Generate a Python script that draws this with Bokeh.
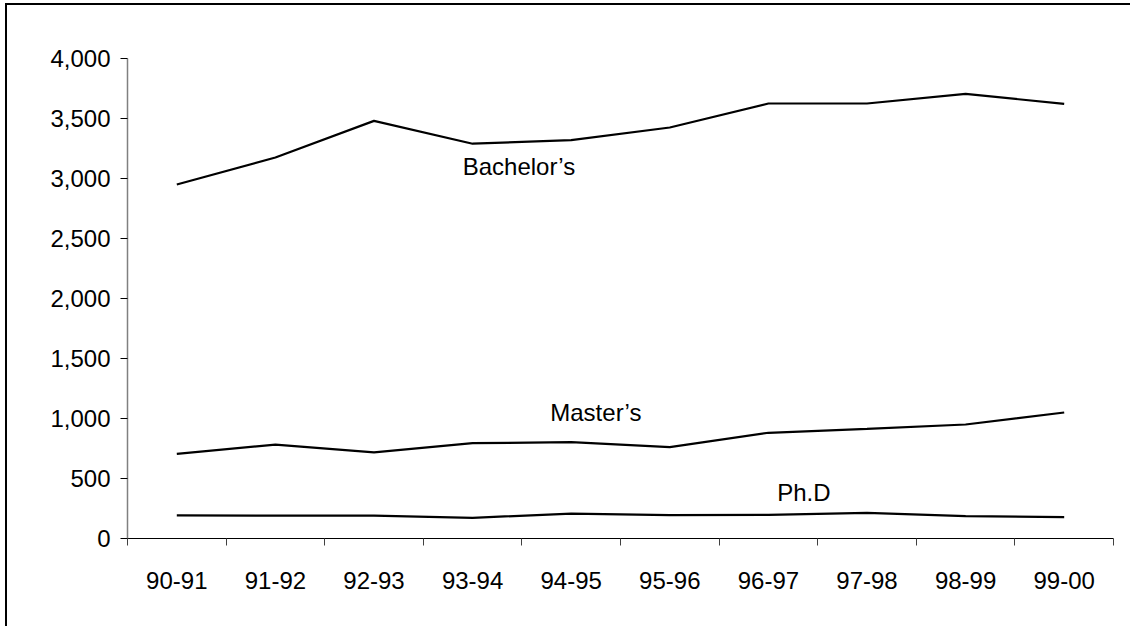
import numpy as np
from bokeh.plotting import figure
from bokeh.models import FixedTicker, NumeralTickFormatter, Range1d, Label
from bokeh.embed import file_html
from bokeh.resources import INLINE

# ---- data ----
years = ["90-91", "91-92", "92-93", "93-94", "94-95", "95-96", "96-97", "97-98", "98-99", "99-00"]
bachelors = [2950, 3175, 3480, 3290, 3320, 3425, 3625, 3625, 3705, 3622]
masters = [706, 783, 717, 794, 803, 761, 881, 914, 950, 1050]
phd = [192, 190, 190, 172, 208, 195, 197, 213, 186, 178]
y_ticks = [0, 500, 1000, 1500, 2000, 2500, 3000, 3500, 4000]

FONT = "Liberation Sans"
FS = "24px"

x = np.arange(len(years)) + 0.5

p = figure(width=1125, height=623, output_backend="svg", toolbar_location=None,
           x_range=Range1d(0, len(years)), y_range=Range1d(0, 4000),
           min_border_left=120, min_border_top=53, min_border_right=19, min_border_bottom=90,
           background_fill_color="white", border_fill_color="white",
           styles={"margin-left": "5px", "margin-top": "3px",
                   "border-left": "2px solid black", "border-top": "2px solid black"})
p.outline_line_color = None
p.grid.grid_line_color = None

for series in (bachelors, masters, phd):
    p.line(x, series, line_color="black", line_width=2.2)

# x axis: labels at centers, tick marks at category boundaries (as minor ticks)
p.xaxis.ticker = FixedTicker(ticks=list(x), minor_ticks=list(range(len(years) + 1)))
p.xaxis.major_label_overrides = {float(v): lab for v, lab in zip(x, years)}
p.xaxis.major_tick_out = 0
p.xaxis.major_tick_in = 0
p.xaxis.minor_tick_out = 7
p.xaxis.minor_tick_in = 0
p.xaxis.minor_tick_line_color = "#404040"
p.xaxis.axis_line_color = "black"
p.xaxis.axis_line_width = 1.2
p.xaxis.major_label_standoff = 26
p.xaxis.major_label_text_font = FONT
p.xaxis.major_label_text_font_size = FS
p.xaxis.major_label_text_color = "black"

p.yaxis.ticker = FixedTicker(ticks=y_ticks)
p.yaxis.formatter = NumeralTickFormatter(format="0,0")
p.yaxis.major_tick_out = 7
p.yaxis.major_tick_in = 0
p.yaxis.minor_tick_out = 0
p.yaxis.minor_tick_in = 0
p.yaxis.major_tick_line_color = "black"
p.yaxis.axis_line_color = "#808080"
p.yaxis.axis_line_width = 1.5
p.yaxis.major_label_standoff = 10
p.yaxis.major_label_text_font = FONT
p.yaxis.major_label_text_font_size = FS
p.yaxis.major_label_text_color = "black"

# series labels
for txt, lx, ly in (("Bachelor\u2019s", 3.97, 3100), ("Master\u2019s", 4.75, 1050), ("Ph.D", 6.86, 383)):
    p.add_layout(Label(x=lx, y=ly, text=txt, text_align="center", text_baseline="middle",
                       text_font=FONT, text_font_size=FS, text_color="black"))

open("out.html", "w").write(file_html(p, INLINE))
